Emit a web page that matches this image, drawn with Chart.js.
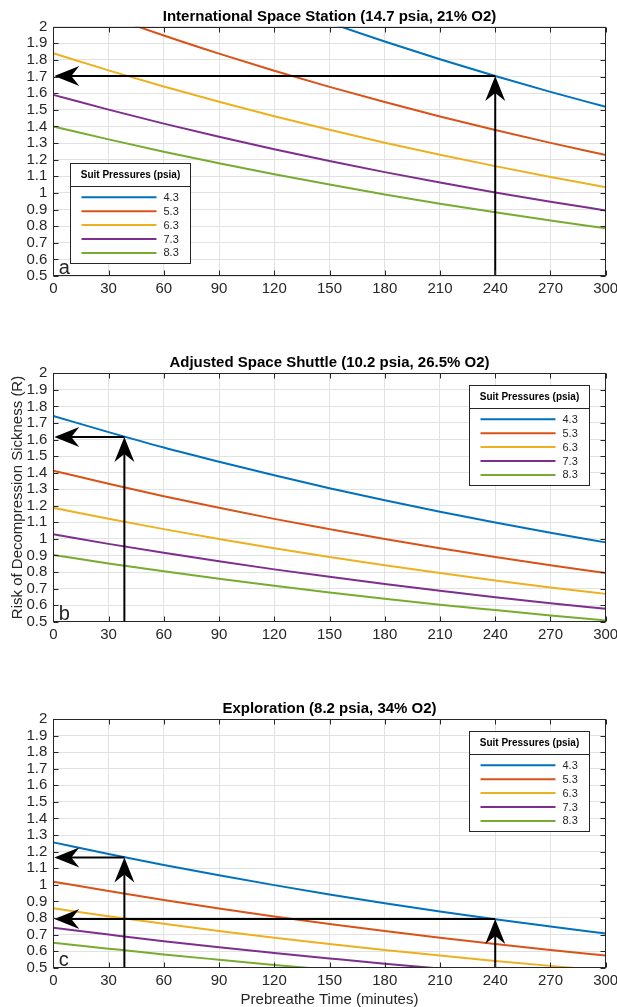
<!DOCTYPE html>
<html>
<head>
<meta charset="utf-8">
<script src="https://cdn.jsdelivr.net/npm/chart.js@4.4.1/dist/chart.umd.min.js"></script>
<style>
  html, body { margin: 0; padding: 0; background: #ffffff; }
  body { width: 617px; height: 1007px; position: relative; overflow: hidden; }
  canvas { position: absolute; left: 0; }
</style>
</head>
<body>
<canvas id="panelA" width="617" height="300" style="top:0px"></canvas>
<canvas id="panelB" width="617" height="300" style="top:346px"></canvas>
<canvas id="panelC" width="617" height="315" style="top:692px"></canvas>
<script>
// ---------------- data ----------------
const prebreatheMin = [0, 30, 60, 90, 120, 150, 180, 210, 240, 270, 300];
const suitPressures = ['4.3', '5.3', '6.3', '7.3', '8.3'];
const xTickValues = [0, 30, 60, 90, 120, 150, 180, 210, 240, 270, 300];
const yTickValues = [0.5, 0.6, 0.7, 0.8, 0.9, 1.0, 1.1, 1.2, 1.3, 1.4, 1.5, 1.6, 1.7, 1.8, 1.9, 2.0];
const yTickLabels = ['0.5', '0.6', '0.7', '0.8', '0.9', '1', '1.1', '1.2', '1.3', '1.4', '1.5', '1.6', '1.7', '1.8', '1.9', '2'];
const panelTitles = [
  'International Space Station (14.7 psia, 21% O2)',
  'Adjusted Space Shuttle (10.2 psia, 26.5% O2)',
  'Exploration (8.2 psia, 34% O2)'
];
const panelLetters = ['a', 'b', 'c'];
const yAxisTitle = 'Risk of Decompression Sickness (R)';
const xAxisTitle = 'Prebreathe Time (minutes)';
const legendTitle = 'Suit Pressures (psia)';

// (a) International Space Station
const iss43 = [2.70, 2.549, 2.406, 2.272, 2.144, 2.024, 1.911, 1.804, 1.703, 1.608, 1.518];
const iss53 = [2.185, 2.063, 1.947, 1.838, 1.735, 1.638, 1.547, 1.460, 1.378, 1.301, 1.228];
const iss63 = [1.84, 1.737, 1.640, 1.548, 1.461, 1.380, 1.302, 1.230, 1.161, 1.096, 1.034];
const iss73 = [1.59, 1.501, 1.417, 1.338, 1.263, 1.192, 1.125, 1.062, 1.003, 0.947, 0.894];
const iss83 = [1.40, 1.322, 1.248, 1.178, 1.112, 1.050, 0.991, 0.935, 0.883, 0.834, 0.787];
// (b) Adjusted Space Shuttle
const shuttle43 = [1.742, 1.645, 1.552, 1.466, 1.384, 1.306, 1.233, 1.164, 1.099, 1.037, 0.979];
const shuttle53 = [1.412, 1.333, 1.258, 1.188, 1.121, 1.059, 0.999, 0.944, 0.891, 0.841, 0.794];
const shuttle63 = [1.188, 1.122, 1.059, 0.999, 0.944, 0.891, 0.841, 0.794, 0.749, 0.707, 0.668];
const shuttle73 = [1.028, 0.970, 0.916, 0.865, 0.816, 0.771, 0.728, 0.687, 0.648, 0.612, 0.578];
const shuttle83 = [0.903, 0.852, 0.805, 0.760, 0.717, 0.677, 0.639, 0.603, 0.570, 0.538, 0.508];
// (c) Exploration
const explor43 = [1.256, 1.186, 1.119, 1.057, 0.998, 0.942, 0.889, 0.839, 0.792, 0.748, 0.706];
const explor53 = [1.019, 0.962, 0.908, 0.857, 0.809, 0.764, 0.721, 0.681, 0.643, 0.607, 0.573];
const explor63 = [0.858, 0.810, 0.765, 0.722, 0.681, 0.643, 0.607, 0.573, 0.541, 0.511, 0.482];
const explor73 = [0.741, 0.700, 0.660, 0.623, 0.589, 0.556, 0.524, 0.495, 0.467, 0.441, 0.417];
const explor83 = [0.651, 0.615, 0.580, 0.548, 0.517, 0.488, 0.461, 0.435, 0.411, 0.388, 0.366];

// reading arrows: [prebreathe minutes, risk]
const issArrows = [[240, 1.703]];
const shuttleArrows = [[38.6, 1.616]];
const explorArrows = [[38.6, 1.164], [240, 0.794]];

// ---------------- styles ----------------
const lineColors = ['#0072BD', '#D95319', '#EDB120', '#7E2F8E', '#77AC30'];
const FONT = '"Liberation Sans", Arial, Helvetica, sans-serif';
const AXIS_COLOR = '#262626';
const GRID_COLOR = '#e2e2e2';

function buildDatasets(seriesList) {
  return seriesList.map((arr, k) => ({
    label: suitPressures[k],
    data: prebreatheMin.map((t, i) => ({ x: t, y: arr[i] })),
    borderColor: lineColors[k],
    backgroundColor: lineColors[k],
    borderWidth: 2,
    pointRadius: 0,
    fill: false,
    cubicInterpolationMode: 'monotone'
  }));
}

function arrowHead(ctx, tx, ty, dx, dy) {
  const L = 25, W = 20, N = 17;
  const bx = -dx, by = -dy;   // backwards
  const px = -dy, py = dx;    // perpendicular
  ctx.beginPath();
  ctx.moveTo(tx, ty);
  ctx.lineTo(tx + bx * L + px * W / 2, ty + by * L + py * W / 2);
  ctx.lineTo(tx + bx * N, ty + by * N);
  ctx.lineTo(tx + bx * L - px * W / 2, ty + by * L - py * W / 2);
  ctx.closePath();
  ctx.fill();
}

function makeDecor(idx, arrows, legendPlace, showYTitle, showXTitle) {
  return {
    id: 'decor' + idx,
    afterDatasetsDraw(chart) {
      const ctx = chart.ctx;
      const ca = chart.chartArea;
      const xs = chart.scales.x, ys = chart.scales.y;
      ctx.save();

      // reading arrows
      ctx.strokeStyle = '#000';
      ctx.fillStyle = '#000';
      ctx.lineWidth = 2;
      arrows.forEach(([t, r]) => {
        const x = xs.getPixelForValue(t);
        const y = ys.getPixelForValue(r);
        ctx.beginPath();
        ctx.moveTo(x, ca.bottom);
        ctx.lineTo(x, y + 17);
        ctx.moveTo(x, y);
        ctx.lineTo(ca.left + 17, y);
        ctx.stroke();
        arrowHead(ctx, x, y, 0, -1);
        arrowHead(ctx, ca.left + 1, y, -1, 0);
      });

      // axes box
      const L = Math.round(ca.left) + 0.5, R = Math.round(ca.right) - 0.5;
      const T = Math.round(ca.top) + 0.5, B = Math.round(ca.bottom) - 0.5;
      ctx.strokeStyle = AXIS_COLOR;
      ctx.lineWidth = 1;
      ctx.strokeRect(L, T, R - L, B - T);
      // inner tick marks
      ctx.beginPath();
      const tl = 5;
      xTickValues.forEach(v => {
        const x = Math.round(xs.getPixelForValue(v)) + 0.5;
        ctx.moveTo(x, T); ctx.lineTo(x, T + tl);
        ctx.moveTo(x, B); ctx.lineTo(x, B - tl);
      });
      yTickValues.forEach(v => {
        const y = Math.round(ys.getPixelForValue(v)) + 0.5;
        ctx.moveTo(L, y); ctx.lineTo(L + tl, y);
        ctx.moveTo(R, y); ctx.lineTo(R - tl, y);
      });
      ctx.stroke();

      // legend
      const lw = 120, lh = 100;
      let lx, ly;
      if (legendPlace === 'left') { lx = ca.left + 16.7; ly = ca.top + 136; }
      else { lx = ca.right - 136.4; ly = ca.top + 12; }
      lx = Math.round(lx) + 0.5; ly = Math.round(ly) + 0.5;
      ctx.fillStyle = '#ffffff';
      ctx.fillRect(lx, ly, lw, lh);
      ctx.strokeStyle = AXIS_COLOR;
      ctx.lineWidth = 1;
      ctx.strokeRect(lx, ly, lw, lh);
      ctx.beginPath();
      ctx.moveTo(lx, ly + 23); ctx.lineTo(lx + lw, ly + 23);
      ctx.stroke();
      ctx.fillStyle = '#000';
      ctx.font = 'bold 10px ' + FONT;
      ctx.textAlign = 'center';
      ctx.textBaseline = 'middle';
      ctx.fillText(legendTitle, lx + lw / 2, ly + 12);
      ctx.font = '11px ' + FONT;
      ctx.textAlign = 'left';
      suitPressures.forEach((lab, k) => {
        const yy = ly + 33.8 + 13.9 * k;
        ctx.strokeStyle = lineColors[k];
        ctx.lineWidth = 2;
        ctx.beginPath();
        ctx.moveTo(lx + 11, yy); ctx.lineTo(lx + 86, yy);
        ctx.stroke();
        ctx.fillStyle = AXIS_COLOR;
        ctx.fillText(lab, lx + 93, yy + 0.5);
      });

      // panel letter
      ctx.fillStyle = AXIS_COLOR;
      ctx.font = '20px ' + FONT;
      ctx.textAlign = 'left';
      ctx.textBaseline = 'alphabetic';
      ctx.fillText(panelLetters[idx], ca.left + 5.5, ca.bottom - 2);

      // title
      ctx.fillStyle = '#000';
      ctx.font = 'bold 15px ' + FONT;
      ctx.textAlign = 'center';
      ctx.fillText(panelTitles[idx], (ca.left + ca.right) / 2, ca.top - 6);

      // axis titles
      ctx.fillStyle = AXIS_COLOR;
      ctx.font = '15px ' + FONT;
      if (showXTitle) {
        ctx.fillText(xAxisTitle, (ca.left + ca.right) / 2, ca.bottom + 36.3);
      }
      if (showYTitle) {
        ctx.translate(22, (ca.top + ca.bottom) / 2);
        ctx.rotate(-Math.PI / 2);
        ctx.fillText(yAxisTitle, 0, 0);
      }
      ctx.restore();
    }
  };
}

function makePanel(canvasId, idx, seriesList, arrows, legendPlace, padTop, plotH, canvasH, showYTitle, showXTitle) {
  const xHeight = canvasH - padTop - plotH;
  return new Chart(document.getElementById(canvasId), {
    type: 'line',
    data: { datasets: buildDatasets(seriesList) },
    options: {
      responsive: false,
      animation: false,
      devicePixelRatio: 1,
      layout: { padding: { left: 0, right: 11.3, top: padTop, bottom: 0 } },
      plugins: { legend: { display: false }, tooltip: { enabled: false }, title: { display: false } },
      scales: {
        x: {
          type: 'linear', min: 0, max: 300,
          afterBuildTicks: s => { s.ticks = xTickValues.map(v => ({ value: v })); },
          afterFit: s => { s.height = xHeight; s.paddingLeft = 0; s.paddingRight = 0; },
          ticks: {
            autoSkip: false, maxRotation: 0, padding: 4,
            color: AXIS_COLOR, font: { family: FONT, size: 15 },
            callback: v => String(v)
          },
          grid: { color: GRID_COLOR, lineWidth: 1, drawTicks: false },
          border: { display: false }
        },
        y: {
          type: 'linear', min: 0.5, max: 2,
          afterBuildTicks: s => { s.ticks = yTickValues.map(v => ({ value: v })); },
          afterFit: s => { s.width = 53.3; s.paddingTop = 0; s.paddingBottom = 0; },
          ticks: {
            autoSkip: false, padding: 6,
            color: AXIS_COLOR, font: { family: FONT, size: 15 },
            callback: (v, i) => yTickLabels[i]
          },
          grid: { color: GRID_COLOR, lineWidth: 1, drawTicks: false },
          border: { display: false }
        }
      }
    },
    plugins: [makeDecor(idx, arrows, legendPlace, showYTitle, showXTitle)]
  });
}

makePanel('panelA', 0, [iss43, iss53, iss63, iss73, iss83], issArrows, 'left', 26.7, 249.3, 300, false, false);
makePanel('panelB', 1, [shuttle43, shuttle53, shuttle63, shuttle73, shuttle83], shuttleArrows, 'right', 27.3, 248.4, 300, true, false);
makePanel('panelC', 2, [explor43, explor53, explor63, explor73, explor83], explorArrows, 'right', 27, 248.7, 315, false, true);
</script>
</body>
</html>
